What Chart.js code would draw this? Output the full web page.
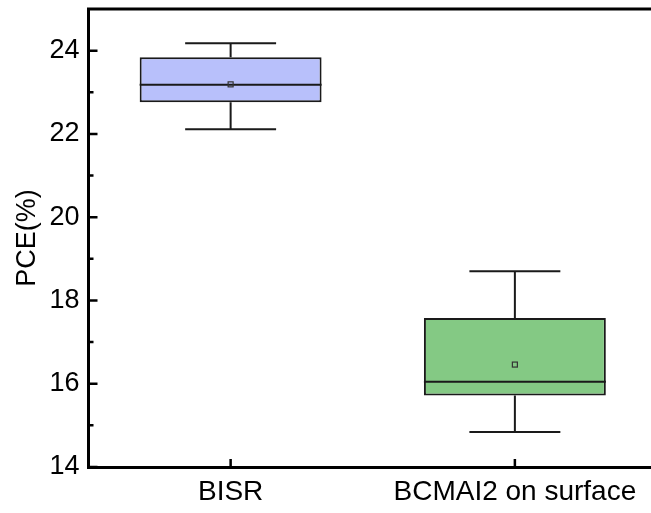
<!DOCTYPE html>
<html>
<head>
<meta charset="utf-8">
<script src="https://cdn.jsdelivr.net/npm/chart.js@4.4.1/dist/chart.umd.min.js"></script>
<style>
html,body{margin:0;padding:0;background:#fff;overflow:hidden;width:651px;height:513px;}
canvas{display:block;}
</style>
</head>
<body>
<canvas id="c" width="660" height="513"></canvas>
<script>
const categories = ['BISR', 'BCMAI2 on surface'];
const minVals    = [22.11, 14.84];
const q1Vals     = [22.76, 15.72];
const medianVals = [23.18, 16.05];
const q3Vals     = [23.84, 17.58];
const maxVals    = [24.18, 18.70];
const meanVals   = [23.19, 16.46];
const boxColors  = ['#b8c0fb', '#84c984'];
const yTickValues = [14, 16, 18, 20, 22, 24];
const yMinorValues = [15, 17, 19, 21, 23];

const FONT = '"Liberation Sans", Arial, sans-serif';
const INK = '#1a1a1a';

const boxPlugin = {
  id: 'boxExtras',
  afterDatasetsDraw(chart) {
    const ctx = chart.ctx;
    const x = chart.scales.x, y = chart.scales.y;
    const meta = chart.getDatasetMeta(0);
    ctx.save();
    ctx.strokeStyle = INK;
    ctx.lineWidth = 2;
    meta.data.forEach((bar, i) => {
      const cx = bar.x;
      const hw = bar.width / 2;
      const cap = bar.width / 4;
      const yMin = y.getPixelForValue(minVals[i]);
      const yMax = y.getPixelForValue(maxVals[i]);
      const yQ1 = y.getPixelForValue(q1Vals[i]);
      const yQ3 = y.getPixelForValue(q3Vals[i]);
      const yMed = y.getPixelForValue(medianVals[i]);
      const yMean = y.getPixelForValue(meanVals[i]);
      ctx.beginPath();
      ctx.moveTo(cx, yQ3); ctx.lineTo(cx, yMax);
      ctx.moveTo(cx - cap, yMax); ctx.lineTo(cx + cap, yMax);
      ctx.moveTo(cx, yQ1); ctx.lineTo(cx, yMin);
      ctx.moveTo(cx - cap, yMin); ctx.lineTo(cx + cap, yMin);
      ctx.moveTo(cx - hw, yMed); ctx.lineTo(cx + hw, yMed);
      ctx.stroke();
      ctx.lineWidth = 1.2;
      ctx.strokeStyle = '#333';
      ctx.strokeRect(cx - 2.5, yMean - 2.5, 5, 5);
      ctx.lineWidth = 2;
      ctx.strokeStyle = INK;
    });
    const a = chart.chartArea;
    ctx.strokeStyle = '#000';
    ctx.lineWidth = 3;
    ctx.beginPath();
    ctx.moveTo(a.left - 1.5, a.top); ctx.lineTo(a.right + 10, a.top);
    ctx.stroke();
    ctx.lineWidth = 2.5;
    ctx.beginPath();
    yTickValues.forEach(v => {
      const py = y.getPixelForValue(v);
      ctx.moveTo(a.left, py); ctx.lineTo(a.left + 9, py);
    });
    yMinorValues.forEach(v => {
      const py = y.getPixelForValue(v);
      ctx.moveTo(a.left, py); ctx.lineTo(a.left + 5, py);
    });
    categories.forEach((c, i) => {
      const px = x.getPixelForValue(i);
      ctx.moveTo(px, a.bottom); ctx.lineTo(px, a.bottom - 8);
    });
    ctx.stroke();
    ctx.restore();
  }
};

new Chart(document.getElementById('c'), {
  type: 'bar',
  data: {
    labels: categories,
    datasets: [{
      data: categories.map((c, i) => [q1Vals[i], q3Vals[i]]),
      backgroundColor: boxColors,
      borderColor: INK,
      borderWidth: 2,
      borderSkipped: false,
      categoryPercentage: 1,
      barPercentage: 0.64
    }]
  },
  options: {
    responsive: false,
    animation: false,
    devicePixelRatio: 1,
    layout: { padding: { left: 0, top: 9, right: 3, bottom: 0 } },
    plugins: { legend: { display: false }, tooltip: { enabled: false } },
    scales: {
      x: {
        type: 'category',
        offset: true,
        grid: { display: false, drawTicks: false },
        border: { display: true, color: '#000', width: 3 },
        ticks: { color: '#000', font: { family: FONT, size: 28 }, padding: 8, maxRotation: 0, autoSkip: false },
        afterFit(s) { s.height = 46; s.paddingLeft = 0; s.paddingRight = 0; }
      },
      y: {
        min: 14, max: 25,
        grid: { display: false, drawTicks: false },
        border: { display: true, color: '#000', width: 3 },
        ticks: { color: '#000', font: { family: FONT, size: 27 }, padding: 9, stepSize: 2, includeBounds: false },
        afterBuildTicks(s) { s.ticks = yTickValues.map(v => ({ value: v })); },
        afterFit(s) { s.width = 88.5; s.paddingTop = 0; s.paddingBottom = 0; },
        title: { display: true, text: 'PCE(%)', color: '#000', font: { family: FONT, size: 27 }, padding: { top: 11, bottom: 0 } }
      }
    }
  },
  plugins: [boxPlugin]
});
</script>
</body>
</html>
